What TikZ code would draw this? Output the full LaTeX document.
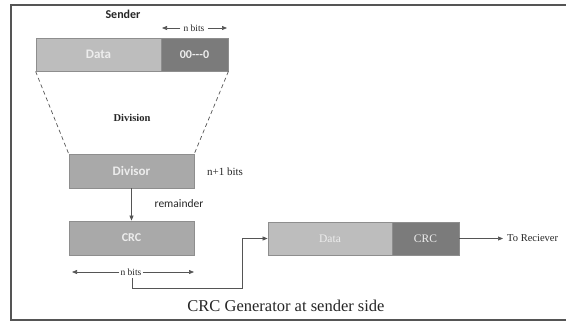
\documentclass[tikz,border=0pt]{standalone}
\usepackage{fontspec}
\setmainfont{Liberation Serif}
\newfontfamily\boxsans{Carlito}
\usetikzlibrary{arrows.meta}
\definecolor{lightbox}{HTML}{BDBDBD}
\definecolor{midbox}{HTML}{A9A9A9}
\definecolor{darkbox}{HTML}{7B7B7B}
\definecolor{boxline}{HTML}{8E8E8E}
\definecolor{linegray}{HTML}{555555}
\definecolor{boxtext}{HTML}{EDEDED}
\begin{document}
\begin{tikzpicture}[x=1pt,y=-1pt,
  blk/.style={draw=boxline,line width=0.8pt,inner sep=0pt,minimum height=33pt,text=boxtext},
  conn/.style={draw=linegray,line width=0.7pt},
  tip/.style={-{Triangle[length=5pt,width=4pt]}},
  lbl/.style={inner sep=1pt,text=black!85}]
\useasboundingbox (0,0) rectangle (566,322);
% frame
\draw[linegray,line width=1.6pt] (575,5) -- (11,5) -- (11,320) -- (575,320);
% top row
\node[blk,fill=lightbox,minimum width=125pt,font=\boxsans\bfseries\fontsize{13}{15}\selectfont] (data1) at (98.5,54.5) {Data};
\node[blk,fill=darkbox,minimum width=67pt,font=\boxsans\bfseries\fontsize{12}{14}\selectfont] (zeros) at (194.5,54.5) {00---0};
\node[lbl,font=\boxsans\bfseries\fontsize{12}{14}\selectfont] (sender) at (123,14) {Sender};
\node[lbl,inner sep=3pt,font=\fontsize{9.5}{11}\selectfont] (nb1) at (194,28) {n bits};
\coordinate (nb1l) at (162,28);
\coordinate (nb1r) at (227,28);
\draw[conn,tip] (nb1.west) -- (nb1l);
\draw[conn,tip] (nb1.east) -- (nb1r);
% divisor
\node[blk,fill=midbox,minimum width=125pt,minimum height=34pt,font=\boxsans\bfseries\fontsize{13}{15}\selectfont] (divisor) at (131.5,171) {Divisor};
\draw[conn,dashed,dash pattern=on 4pt off 3pt] (data1.south west) -- (divisor.north west);
\draw[conn,dashed,dash pattern=on 4pt off 3pt] (zeros.south east) -- (divisor.north east);
\node[lbl,font=\bfseries\fontsize{10.5}{12}\selectfont] (division) at (132,118) {Division};
\node[lbl,font=\fontsize{11}{13}\selectfont] (np1) at (225,172) {n+1 bits};
% crc
\node[blk,fill=midbox,minimum width=125pt,minimum height=34pt,font=\boxsans\bfseries\fontsize{12}{14}\selectfont] (crc) at (131.5,238) {CRC};
\draw[conn,tip] (divisor.south) -- (crc.north);
\node[lbl,font=\boxsans\fontsize{11.5}{13}\selectfont] (rem) at (179,204) {remainder};
\node[lbl,font=\fontsize{9.5}{11}\selectfont] (nb2) at (131,272) {n bits};
\coordinate (nb2l) at (72,272);
\coordinate (nb2r) at (194,272);
\draw[conn,tip] (nb2.west) -- (nb2l);
\draw[conn,tip] (nb2.east) -- (nb2r);
% bottom right
\node[blk,fill=lightbox,minimum width=124pt,font=\fontsize{11.5}{13}\selectfont] (data2) at (330,238.5) {Data};
\node[blk,fill=darkbox,minimum width=67pt,font=\fontsize{11.5}{13}\selectfont] (crc2) at (425.5,238.5) {CRC};
\coordinate (bend1) at (132,288);
\coordinate (bend2) at (242,288);
\draw[conn,tip] (132,278) -- (bend1) -- (bend2) |- (data2.west);
\node[lbl,anchor=west,inner sep=4pt,font=\fontsize{10.5}{13}\selectfont] (recv) at (503,238.5) {To Reciever};
\draw[conn,tip] (crc2.east) -- (recv.west);
% caption
\node[lbl,font=\fontsize{16.5}{19}\selectfont] (cap) at (286,306) {CRC Generator at sender side};
\end{tikzpicture}
\end{document}
